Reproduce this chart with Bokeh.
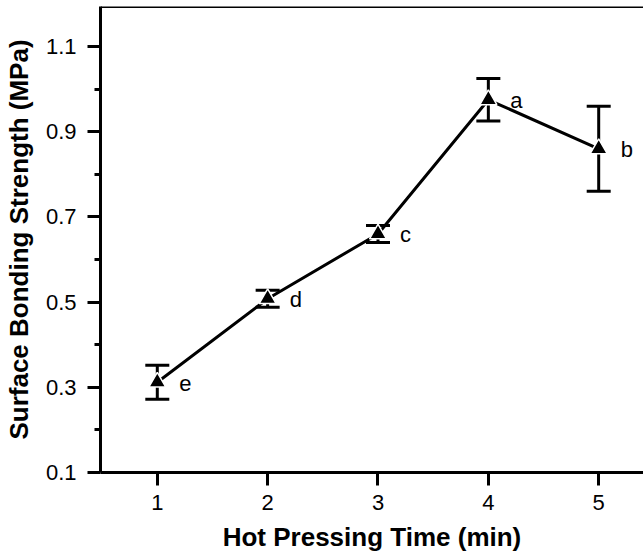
from bokeh.plotting import figure
from bokeh.models import Whisker, ColumnDataSource, Span, FixedTicker, Range1d
from bokeh.core.properties import value
from bokeh.embed import file_html
from bokeh.resources import INLINE

time_min = [1, 2, 3, 4, 5]
strength = [0.312, 0.508, 0.660, 0.975, 0.860]
error = [0.040, 0.020, 0.020, 0.050, 0.100]
letters = ["e", "d", "c", "a", "b"]
x_ticks = [1, 2, 3, 4, 5]
y_ticks = [0.1, 0.3, 0.5, 0.7, 0.9, 1.1]
y_minor = [0.2, 0.4, 0.6, 0.8, 1.0]

src = ColumnDataSource(dict(
    x=time_min, y=strength,
    upper=[s + e for s, e in zip(strength, error)],
    lower=[s - e for s, e in zip(strength, error)],
    lab=letters,
))

FONT = "Liberation Sans"
Y_TOP = 1.194

p = figure(width=643, height=560, output_backend="svg", toolbar_location=None,
           x_range=Range1d(0.4853, 5.406), y_range=Range1d(0.1, Y_TOP),
           min_border_left=98, min_border_right=0, min_border_top=6, min_border_bottom=88)
p.outline_line_alpha = 0
p.grid.visible = False
p.background_fill_color = "white"
p.border_fill_color = "white"

# top frame line
p.add_layout(Span(location=Y_TOP, dimension="width", line_color="black", line_width=3))

for ax in (p.xaxis[0], p.yaxis[0]):
    ax.axis_line_width = 3
    ax.major_tick_line_width = 3
    ax.minor_tick_line_width = 3
    ax.major_tick_in = 0
    ax.major_tick_out = 13
    ax.minor_tick_in = 0
    ax.minor_tick_out = 6
    ax.major_label_text_font = FONT
    ax.major_label_text_font_size = "22px"
    ax.major_label_text_color = "black"
    ax.axis_label_text_font = FONT
    ax.axis_label_text_font_size = "26px"
    ax.axis_label_text_font_style = "bold"
    ax.axis_label_text_color = "black"

p.xaxis.ticker = FixedTicker(ticks=x_ticks)
p.xaxis.minor_tick_out = 0
p.yaxis.ticker = FixedTicker(ticks=y_ticks, minor_ticks=y_minor)
p.xaxis.axis_label = "Hot Pressing Time (min)"
p.yaxis.axis_label = "Surface Bonding Strength (MPa)"
p.xaxis.major_label_standoff = 9
p.yaxis.major_label_standoff = 11
p.xaxis.axis_label_standoff = 9
p.yaxis.axis_label_standoff = 9

p.line("x", "y", source=src, line_color="black", line_width=3)
w = Whisker(base="x", upper="upper", lower="lower", source=src, dimension="height",
            line_color="black", line_width=3)
w.upper_head.size = 24
w.lower_head.size = 24
w.upper_head.line_width = 3
w.lower_head.line_width = 3
w.upper_head.line_color = "black"
w.lower_head.line_color = "black"
p.add_layout(w)
p.scatter("x", "y", source=src, marker="triangle", size=17, fill_color="black",
          line_color="white", line_width=1.5)
p.text("x", "y", text="lab", source=src, x_offset=22, y_offset=1,
       text_font=value(FONT), text_font_size="22px", text_baseline="middle",
       text_align="left", text_color="black")

open("out.html", "w").write(file_html(p, INLINE))
